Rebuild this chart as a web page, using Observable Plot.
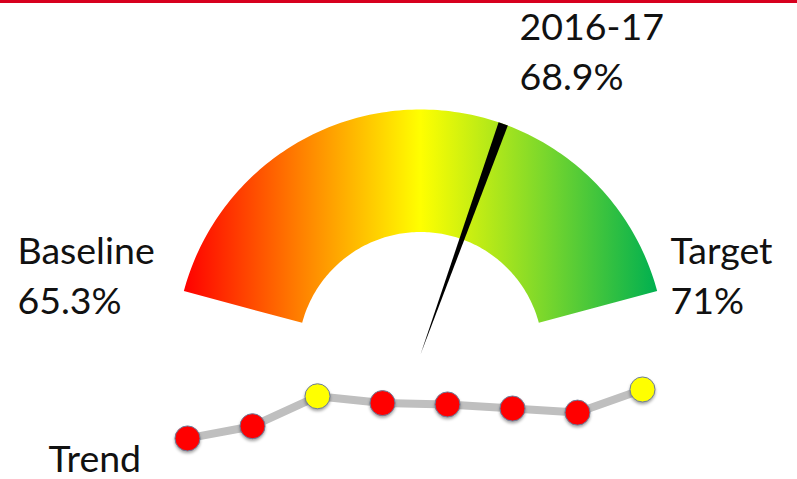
<!DOCTYPE html>
<html><head><meta charset="utf-8">
<script src="https://cdn.jsdelivr.net/npm/d3@7"></script>
<script src="https://cdn.jsdelivr.net/npm/@observablehq/plot@0.6"></script>
<style>
body{margin:0;background:#fff;font-family:Lato,sans-serif;}
#wrap{position:relative;width:797px;height:479px;overflow:hidden;background:#fff}
#bar{position:absolute;left:0;top:0;width:797px;height:3px;background:#d7001e}
svg{display:block}
</style></head><body><div id="wrap"><div id="bar"></div></div>
<script>
// ---- data ----
const baseline = 65.3;
const target = 71;
const current = 68.9;
const gaugeLabels = ["Baseline", "Target", "2016-17"];
const gaugeValueLabels = ["65.3%", "71%", "68.9%"];
const trendPeriods = ["2009-10", "2010-11", "2011-12", "2012-13", "2013-14", "2014-15", "2015-16", "2016-17"];
const trendValues = [65.3, 66.2, 68.4, 67.9, 67.8, 67.5, 67.2, 68.9];
const trendStatus = ["red", "red", "yellow", "red", "red", "red", "red", "yellow"];
const gradientStops = [[0, "#ff0000"], [0.25, "#ff8200"], [0.5, "#ffff00"], [0.75, "#80d92a"], [1, "#00b050"]];

// ---- layout ----
const W = 797, GH = 366, TH = 113;
const PX = 245;            // pixels per gauge radius unit
const CX = 420, CY = 354;  // gauge centre in pixels
const R_OUT = 1, R_IN = 0.5, SWEEP = 75, NEEDLE_HALF = 1.15;
const FONT = "Lato, sans-serif", FS = 37.5;

const angle = d3.scaleLinear().domain([baseline, target]).range([-SWEEP, SWEEP]);
const rad = d => d * Math.PI / 180;
const polar = (r, deg) => ({x: r * Math.sin(rad(deg)), y: r * Math.cos(rad(deg))});

const arcPts = [];
const N = 150;
for (let i = 0; i <= N; i++) arcPts.push(polar(R_OUT, angle(baseline + (target - baseline) * i / N)));
for (let i = N; i >= 0; i--) arcPts.push(polar(R_IN, angle(baseline + (target - baseline) * i / N)));

const a = angle(current);
const needle = [polar(0, a), polar(R_OUT, a - NEEDLE_HALF), polar(R_OUT, a + NEEDLE_HALF)];

const labelPos = [
  {x: (17 - CX) / PX, y: (CY - 313) / PX},
  {x: (670 - CX) / PX, y: (CY - 313) / PX},
  {x: (519 - CX) / PX, y: (CY - 89) / PX}
];
const labels = gaugeLabels.map((t, i) => ({text: t + "\n" + gaugeValueLabels[i], ...labelPos[i]}));

const gauge = Plot.plot({
  width: W, height: GH, margin: 0,
  x: {domain: [-CX / PX, (W - CX) / PX], axis: null},
  y: {domain: [(CY - GH) / PX, CY / PX], axis: null},
  marks: [
    Plot.line(arcPts, {x: "x", y: "y", stroke: "none", fill: "url(#gaugeGrad)"}),
    Plot.line(needle, {x: "x", y: "y", stroke: "none", fill: "#000"}),
    Plot.text(labels, {x: "x", y: "y", text: "text", textAnchor: "start", lineAnchor: "bottom",
      lineHeight: 50 / FS, fontSize: FS, fontFamily: FONT, fill: "#111"})
  ]
});
const defs = d3.select(gauge).insert("defs", ":first-child");
const lg = defs.append("linearGradient").attr("id", "gaugeGrad")
  .attr("x1", 0).attr("y1", 0).attr("x2", 1).attr("y2", 0);
gradientStops.forEach(([o, c]) => lg.append("stop").attr("offset", o).attr("stop-color", c));

const trend = trendPeriods.map((p, i) => ({period: p, value: trendValues[i], status: trendStatus[i]}));
const trendPlot = Plot.plot({
  width: W, height: TH,
  marginLeft: 185, marginRight: 153, marginTop: 0, marginBottom: 0,
  x: {type: "point", domain: trendPeriods, padding: 0, axis: null},
  y: {domain: [62.28, 70.59], axis: null},
  color: {type: "identity"},
  marks: [
    Plot.line(trend, {x: "period", y: "value", stroke: "#bfbfbf", strokeWidth: 8}),
    Plot.dot(trend, {x: "period", y: "value", r: 12.5, fill: "status", stroke: "#6b7b99", strokeWidth: 1}),
    Plot.text(["Trend"], {frameAnchor: "bottom-left", dx: -137, dy: -8, lineAnchor: "bottom",
      textAnchor: "start", fontSize: FS, fontFamily: FONT, fill: "#111"})
  ]
});
d3.select(trendPlot).selectAll("circle").style("filter", "drop-shadow(0px 2px 1.5px rgba(0,0,0,0.35))");

const wrap = document.getElementById("wrap");
wrap.insertBefore(gauge, wrap.firstChild);
wrap.insertBefore(trendPlot, document.getElementById("bar"));
</script></body></html>
